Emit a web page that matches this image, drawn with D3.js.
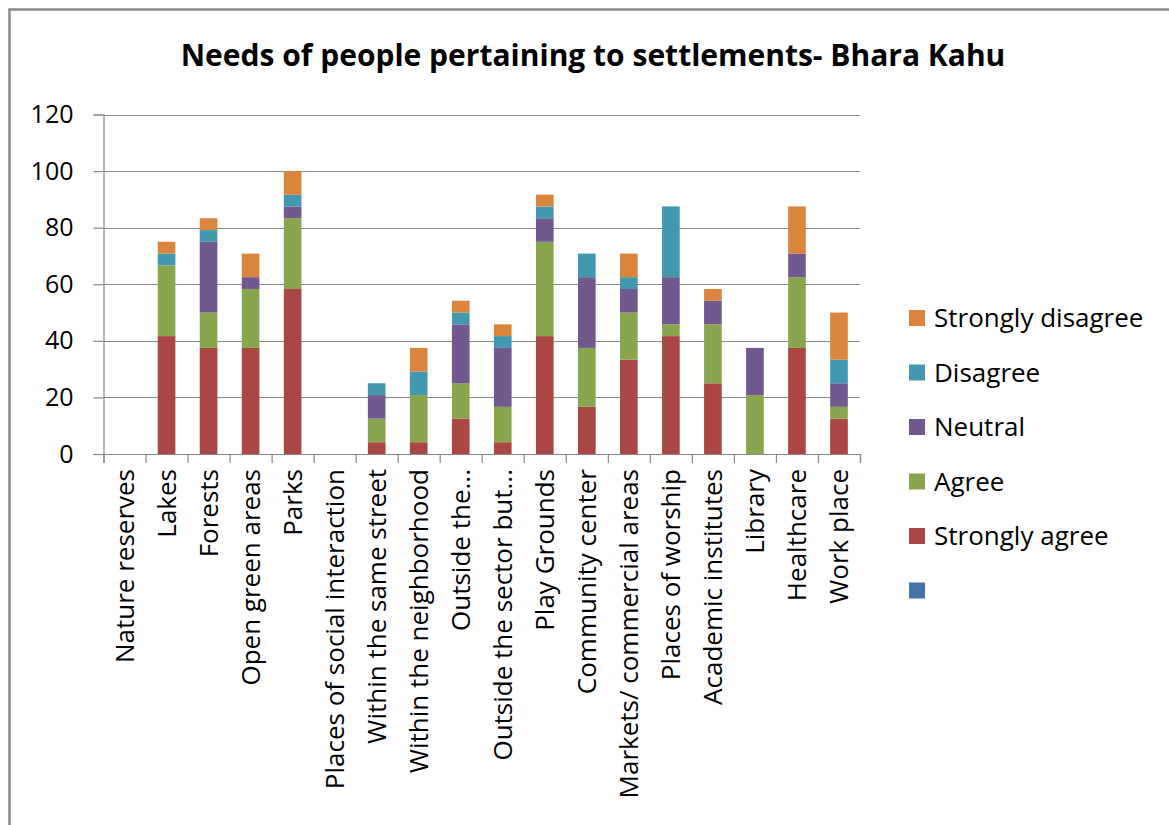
<!DOCTYPE html>
<html lang="en">
<head>
  <meta charset="UTF-8" />
  <script src="https://d3js.org/d3.v7.min.js"></script>
  <title>Needs of people - Bhara Kahu</title>
  <style>
    body { margin: 0; background: #fff; }
    text { font-family: "Open Sans", sans-serif; fill: #000; }
  </style>
</head>
<body>
<script type="text/javascript">
var categories = ["Nature reserves", "Lakes", "Forests", "Open green areas", "Parks",
  "Places of social interaction", "Within the same street", "Within the neighborhood",
  "Outside the...", "Outside the sector but...", "Play Grounds", "Community center",
  "Markets/ commercial areas", "Places of worship", "Academic institutes", "Library",
  "Healthcare", "Work place"];

// values (percent of respondents)
var blankSeries       = [0, 0, 0, 0, 0, 0, 0, 0, 0, 0, 0, 0, 0, 0, 0, 0, 0, 0];
var stronglyAgree     = [0, 41.67, 37.5, 37.5, 58.33, 0, 4.17, 4.17, 12.5, 4.17, 41.67, 16.67, 33.33, 41.67, 25, 0, 37.5, 12.5];
var agree             = [0, 25, 12.5, 20.83, 25, 0, 8.33, 16.67, 12.5, 12.5, 33.33, 20.83, 16.67, 4.17, 20.83, 20.83, 25, 4.17];
var neutral           = [0, 0, 25, 4.17, 4.17, 0, 8.33, 0, 20.83, 20.83, 8.33, 25, 8.33, 16.67, 8.33, 16.67, 8.33, 8.33];
var disagree          = [0, 4.17, 4.17, 0, 4.17, 0, 4.17, 8.33, 4.17, 4.17, 4.17, 8.33, 4.17, 25, 0, 0, 0, 8.33];
var stronglyDisagree  = [0, 4.17, 4.17, 8.33, 8.33, 0, 0, 8.33, 4.17, 4.17, 4.17, 0, 8.33, 0, 4.17, 0, 16.67, 16.67];

var seriesNames = ["", "Strongly agree", "Agree", "Neutral", "Disagree", "Strongly disagree"];
var seriesVals = [blankSeries, stronglyAgree, agree, neutral, disagree, stronglyDisagree];
var colors = ["#4572A7", "#AA4643", "#89A54E", "#71588F", "#4198AF", "#DB843D"];
var yTicks = [0, 20, 40, 60, 80, 100, 120];

var W = 1169, H = 825;
var plotLeft = 103.5, plotRight = 860, plotTop = 114.5, plotBottom = 454;

var svg = d3.select("body").append("svg").attr("width", W).attr("height", H);

// outer chart border (only top/left visible in the crop)
svg.append("rect").attr("x", 9.5).attr("y", 9.5).attr("width", 1300).attr("height", 1000)
  .attr("fill", "#fff").attr("stroke", "#888").attr("stroke-width", 2.5);

svg.append("text").attr("x", 593).attr("y", 66).attr("text-anchor", "middle")
  .style("font-size", "30px").style("font-weight", "bold")
  .text("Needs of people pertaining to settlements- Bhara Kahu");

var x = d3.scaleBand().domain(categories).range([plotLeft, plotRight]).paddingInner(0.58).paddingOuter(0.29);
var xEdge = d3.scaleLinear().domain([0, categories.length]).range([plotLeft, plotRight]);
var y = d3.scaleLinear().domain([0, 120]).range([plotBottom, plotTop]);

// gridlines
svg.append("g").selectAll("line").data(yTicks.slice(1)).enter().append("line")
  .attr("x1", plotLeft).attr("x2", plotRight)
  .attr("y1", function(d){ return Math.round(y(d)) + 0.5; })
  .attr("y2", function(d){ return Math.round(y(d)) + 0.5; })
  .attr("stroke", "#888").attr("stroke-width", 1.2);

// stacked bars
var rows = categories.map(function(c, i){
  var r = {cat: c};
  seriesNames.forEach(function(s, k){ r["s" + k] = seriesVals[k][i]; });
  return r;
});
var keys = seriesNames.map(function(s, k){ return "s" + k; });
var stacked = d3.stack().keys(keys)(rows);

svg.append("g").selectAll("g").data(stacked).enter().append("g")
  .attr("fill", function(d, k){ return colors[k]; })
  .selectAll("rect").data(function(d){ return d; }).enter().append("rect")
  .attr("x", function(d){ return x(d.data.cat); })
  .attr("width", x.bandwidth())
  .attr("y", function(d){ return y(d[1]); })
  .attr("height", function(d){ return y(d[0]) - y(d[1]); });

// y axis
var yAxis = svg.append("g").attr("transform", "translate(" + plotLeft + ",0)")
  .call(d3.axisLeft(y).tickValues(yTicks).tickSize(10).tickPadding(20));
yAxis.select(".domain").attr("stroke", "#888").attr("stroke-width", 1.2);
yAxis.selectAll(".tick line").attr("stroke", "#888").attr("stroke-width", 1.2);
yAxis.selectAll("text").style("font-size", "25px").style("font-family", "Open Sans");

// x axis: edge ticks between categories
var xTickAxis = svg.append("g").attr("transform", "translate(0," + plotBottom + ")")
  .call(d3.axisBottom(xEdge).ticks(categories.length).tickSize(9).tickFormat(""));
xTickAxis.select(".domain").attr("stroke", "#888").attr("stroke-width", 1.2);
xTickAxis.selectAll(".tick line").attr("stroke", "#888").attr("stroke-width", 1.2);

// category labels
var xLab = svg.append("g").attr("transform", "translate(0," + plotBottom + ")")
  .call(d3.axisBottom(x).tickSize(0));
xLab.select(".domain").remove();
xLab.selectAll("text")
  .attr("transform", "rotate(-90)")
  .attr("x", -15).attr("y", 0).attr("dy", "0.36em")
  .style("text-anchor", "end").style("font-size", "26px").style("font-family", "Open Sans");

// legend (reverse of stacking order)
var legendItems = seriesNames.map(function(s, k){ return {name: s, color: colors[k]}; }).reverse();
var lg = svg.append("g").selectAll("g").data(legendItems).enter().append("g")
  .attr("transform", function(d, i){ return "translate(909," + (318 + i * 54.5) + ")"; });
lg.append("rect").attr("x", 0).attr("y", -8).attr("width", 16).attr("height", 16)
  .attr("fill", function(d){ return d.color; });
lg.append("text").attr("x", 25).attr("y", 0).attr("dy", "0.36em")
  .style("font-size", "26px").text(function(d){ return d.name; });
</script>
</body>
</html>
